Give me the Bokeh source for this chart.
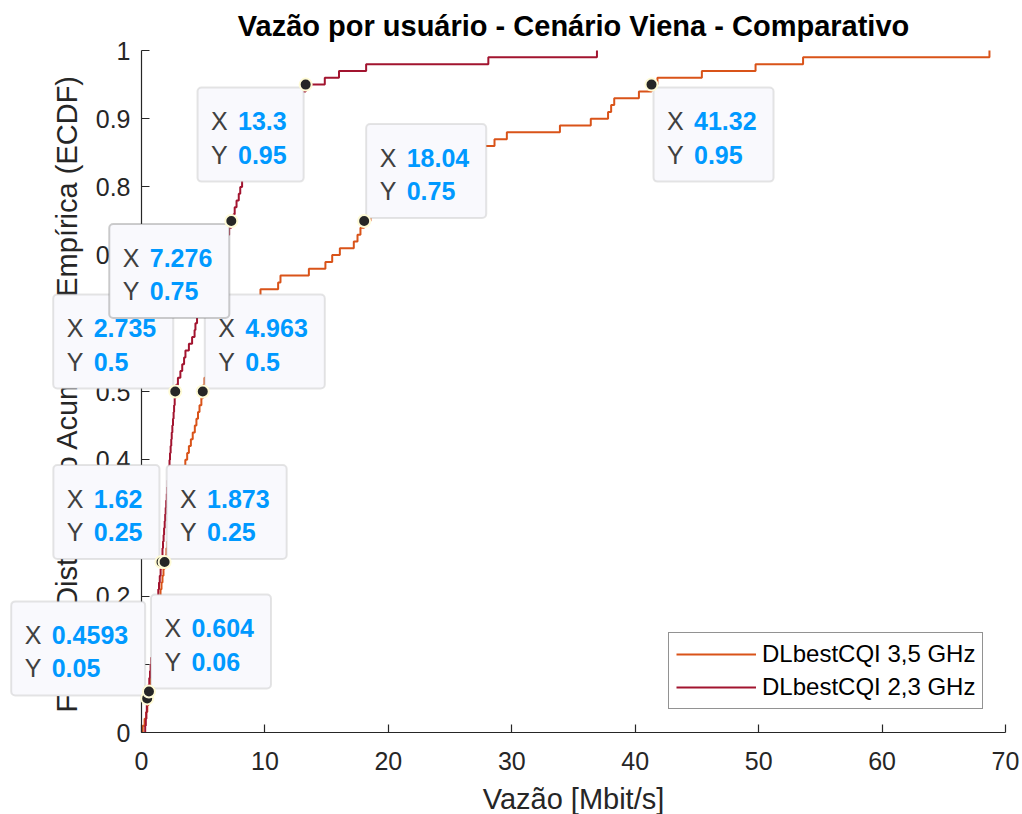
import math
from bokeh.plotting import figure
from bokeh.models import (Range1d, FixedTicker, CustomJSTickFormatter, BoxAnnotation,
                          Label, Legend, LegendItem)
from bokeh.embed import file_html
from bokeh.resources import INLINE

# Sorted throughput per user [Mbit/s], 100 users per carrier
vazao_3500 = [
    0.10, 0.25, 0.38, 0.47, 0.55, 0.604, 0.66, 0.70, 0.74, 0.78,
    0.84, 0.90, 0.97, 1.04, 1.10, 1.17, 1.24, 1.31, 1.38, 1.46,
    1.54, 1.62, 1.70, 1.78, 1.873, 1.95, 2.02, 2.10, 2.18, 2.25,
    2.35, 2.45, 2.55, 2.65, 2.75, 2.88, 3.00, 3.15, 3.35, 3.55,
    3.70, 3.84, 4.00, 4.15, 4.32, 4.45, 4.58, 4.70, 4.85, 4.963,
    5.02, 5.10, 5.25, 5.50, 5.80, 6.10, 6.40, 6.80, 7.20, 7.60,
    8.00, 8.40, 8.80, 9.15, 9.64, 11.07, 11.26, 13.56, 14.90, 15.45,
    16.07, 17.20, 17.50, 17.74, 18.04, 18.55, 19.40, 20.05, 20.90, 21.60,
    22.70, 23.50, 24.90, 25.70, 26.90, 27.80, 28.60, 29.60, 33.90, 36.40,
    37.80, 38.05, 38.30, 40.30, 41.32, 41.80, 45.40, 49.75, 53.60, 68.70,
]
vazao_2300 = [
    0.30, 0.35, 0.39, 0.43, 0.4593, 0.52, 0.58, 0.63, 0.69, 0.74,
    0.80, 0.86, 0.91, 0.97, 1.02, 1.08, 1.13, 1.19, 1.25, 1.30,
    1.36, 1.42, 1.48, 1.55, 1.62, 1.66, 1.70, 1.74, 1.79, 1.83,
    1.88, 1.92, 1.96, 2.00, 2.05, 2.09, 2.13, 2.18, 2.22, 2.27,
    2.31, 2.36, 2.41, 2.45, 2.50, 2.55, 2.60, 2.64, 2.69, 2.735,
    2.80, 2.95, 3.15, 3.30, 3.45, 3.56, 3.84, 4.10, 4.30, 4.37,
    4.50, 4.65, 4.80, 4.95, 5.15, 5.35, 5.55, 5.75, 5.95, 6.20,
    6.45, 6.70, 6.90, 7.10, 7.276, 7.45, 7.55, 7.70, 7.88, 8.00,
    8.15, 8.30, 8.55, 8.70, 9.05, 9.30, 9.70, 10.05, 10.50, 10.80,
    11.40, 11.75, 12.40, 12.80, 13.30, 14.85, 16.00, 18.20, 28.10, 36.90,
]
legendas = ["DLbestCQI 3,5 GHz", "DLbestCQI 2,3 GHz"]
cores = ["#D95319", "#A2142F"]

titulo = "Vazão por usuário - Cenário Viena - Comparativo"
rotulo_x = "Vazão [Mbit/s]"
rotulo_y = "Função Distribuição Acumulada Empírica (ECDF)"

x_ticks = [0, 10, 20, 30, 40, 50, 60, 70]
y_ticks = [i / 10 for i in range(11)]

# Data tips: which curve, rank of the sample, which corner of the box sits on the point
dica_serie = ["2300", "3500", "3500", "2300", "3500", "2300", "2300", "3500", "2300", "3500"]
dica_rank = [95, 75, 95, 50, 50, 75, 25, 25, 5, 6]
dica_canto = ["top_right", "bottom_left", "top_left", "bottom_right", "bottom_left",
              "top_right", "bottom_right", "bottom_left", "bottom_right", "bottom_left"]
dica_ativa = 5  # the currently selected tip has a darker frame

FONT = "Liberation Sans"
W, H = 1022, 814
# axes box inside the canvas (pixels)
AX_L, AX_R, AX_T, AX_B = 141, 1005, 50, 732
X_MAX, Y_MAX = 70.0, 1.0
px_x = (AX_R - AX_L) / X_MAX
px_y = (AX_B - AX_T) / Y_MAX


def dx(px):
    return (px - AX_L) / px_x


def dy(py):
    return (AX_B - py) / px_y


# The frame spans the whole canvas so the data tips may overhang the axes
p = figure(frame_width=W, frame_height=H,
           x_range=Range1d(dx(0), dx(W)), y_range=Range1d(dy(H), dy(0)),
           output_backend="svg", toolbar_location=None,
           min_border=0, background_fill_color="white", border_fill_color="white")
p.outline_line_color = None
p.grid.visible = False
p.title.visible = False

for ax in (p.xaxis[0], p.yaxis[0]):
    ax.fixed_location = 0
    ax.axis_line_color = "#262626"
    ax.axis_line_width = 1.2
    ax.major_tick_line_color = "#262626"
    ax.major_tick_line_width = 1.2
    ax.major_tick_in = 8
    ax.major_tick_out = 0
    ax.minor_tick_line_color = None
    ax.major_label_text_font = FONT
    ax.major_label_text_font_size = "25px"
    ax.major_label_text_color = "#262626"

p.xaxis.bounds = (0, X_MAX)
p.yaxis.bounds = (0, Y_MAX)
p.xaxis.ticker = FixedTicker(ticks=x_ticks)
p.yaxis.ticker = FixedTicker(ticks=y_ticks)
p.xaxis.formatter = CustomJSTickFormatter(code="return String(Math.round(tick));")
p.yaxis.formatter = CustomJSTickFormatter(code="return String(Math.round(tick*10)/10);")
p.xaxis.major_label_standoff = 19
p.yaxis.major_label_standoff = 11

p.add_layout(Label(x=dx((AX_L + AX_R) / 2), y=dy(25), text=titulo, text_font=FONT,
                   text_font_size="29px", text_font_style="bold", text_color="#000000",
                   text_align="center", text_baseline="middle"))
p.add_layout(Label(x=dx((AX_L + AX_R) / 2), y=dy(798), text=rotulo_x, text_font=FONT,
                   text_font_size="29px", text_color="#262626",
                   text_align="center", text_baseline="middle"))
p.add_layout(Label(x=dx(66), y=dy((AX_T + AX_B) / 2 + 2), text=rotulo_y, text_font=FONT,
                   text_font_size="29px", text_color="#262626", angle=math.pi / 2,
                   text_align="center", text_baseline="middle"))


def ecdf(vals):
    v = sorted(vals)
    n = len(v)
    xs = [v[0]] + v
    ys = [k / n for k in range(n + 1)]
    return xs, ys


series = {"3500": vazao_3500, "2300": vazao_2300}
renderers = []
for key, cor in zip(["3500", "2300"], cores):
    xs, ys = ecdf(series[key])
    r = p.step(xs, ys, mode="after", line_color=cor, line_width=2)
    renderers.append(r)

legend = Legend(items=[LegendItem(label=legendas[i], renderers=[renderers[i]]) for i in range(2)],
                location=(668, H - 709), orientation="vertical")
legend.border_line_color = "#262626"
legend.border_line_width = 1.2
legend.background_fill_color = "white"
legend.background_fill_alpha = 1
legend.padding = 7
legend.spacing = 5
legend.margin = 0
legend.glyph_width = 80
legend.glyph_height = 28
legend.label_height = 28
legend.label_standoff = 6
legend.label_text_font = FONT
legend.label_text_font_size = "24px"
legend.label_text_color = "#000000"
p.add_layout(legend, "center")

# Data tip boxes
GX, GY = 2, 3
BOX_H = 94
TIP_FONT = "25px"
DIGIT_W, DOT_W = 13.9, 6.95


def text_w(s):
    return sum(DOT_W if c == "." else DIGIT_W for c in s)


dot_x, dot_y = [], []
for i, (key, rank, canto) in enumerate(zip(dica_serie, dica_rank, dica_canto)):
    vals = sorted(series[key])
    x0 = vals[rank - 1]
    y0 = rank / len(vals)
    dot_x.append(x0)
    dot_y.append(y0)
    sx, sy = "%.4g" % x0, "%.4g" % y0
    w = 40.5 + max(text_w(sx), text_w(sy)) + 17
    if canto.endswith("left"):
        left = x0 + GX / px_x
    else:
        left = x0 - (GX + w) / px_x
    right = left + w / px_x
    if canto.startswith("top"):
        top = y0 - GY / px_y
    else:
        top = y0 + (GY + BOX_H) / px_y
    bottom = top - BOX_H / px_y
    ativa = (i == dica_ativa)
    box = BoxAnnotation(left=left, right=right, bottom=bottom, top=top,
                        fill_color="#F9F9FD", fill_alpha=1.0,
                        line_color="#5A5A5A" if ativa else "#A8A8A8",
                        line_width=2, border_radius=4)
    p.add_layout(box)
    for j, (nome, valor) in enumerate([("X", sx), ("Y", sy)]):
        yy = top - (33.5 if j == 0 else 67) / px_y
        p.add_layout(Label(x=left + 13.5 / px_x, y=yy, text=nome,
                           text_font=FONT, text_font_size=TIP_FONT,
                           text_color="#404040", text_baseline="middle", text_align="left"))
        p.add_layout(Label(x=left + 40.5 / px_x, y=yy, text=valor,
                           text_font=FONT, text_font_size=TIP_FONT, text_font_style="bold",
                           text_color="#0099FF", text_baseline="middle", text_align="left"))

dots = p.scatter(dot_x, dot_y, size=12, marker="circle", fill_color="#262626",
                 line_color="#FFFBD6", line_width=2)
dots.level = "overlay"

open("out.html", "w").write(file_html(p, INLINE))
